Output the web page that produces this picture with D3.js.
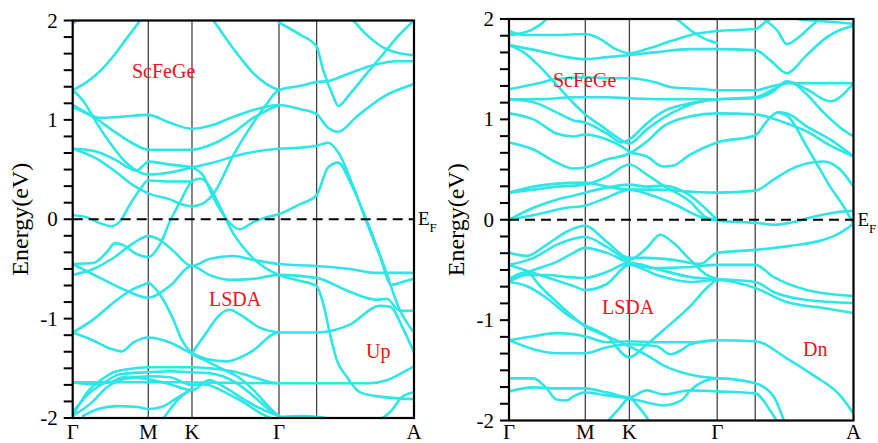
<!DOCTYPE html>
<html>
<head>
<meta charset="utf-8">
<script src="https://cdn.jsdelivr.net/npm/d3@7/dist/d3.min.js"></script>
<style>
  html, body { margin: 0; padding: 0; background: #fff; }
  svg { display: block; }
</style>
</head>
<body>
<svg id="chart" width="878" height="443"></svg>
<script>
// High-symmetry points along the k-path (path length normalised to 1)
const kTicks = [0, 0.2215, 0.3495, 0.6044, 0.7147, 1.0];
const kLabels = ["Γ", "M", "K", "Γ", "", "A"];
const energyTicks = [-2, -1, 0, 1, 2];
const energyRange = [-2, 2];

// Spin-up bands: each band is a list of [k, E (eV)]
const upBands = [
  [[0,1.97],[0.012,2.0],[0.02,2.04]],
  [[0,1.30],[0.041,1.38],[0.08,1.49],[0.119,1.64],[0.158,1.82],[0.197,2.0],[0.21,2.07]],
  [[0,1.30],[0.031,1.19],[0.07,0.97],[0.109,0.77],[0.148,0.60],[0.187,0.49],[0.221,0.45],[0.285,0.47],[0.349,0.52],[0.412,0.57],[0.49,0.65],[0.604,0.71],[0.665,0.72],[0.714,0.74],[0.748,0.77],[0.782,0.65],[0.821,0.34],[0.860,-0.02],[0.900,-0.37],[0.934,-0.66],[0.968,-0.63],[1.0,-0.60]],
  [[0,1.15],[0.041,1.07],[0.08,1.02],[0.139,1.03],[0.221,1.05],[0.285,0.97],[0.349,0.91],[0.412,0.95],[0.47,1.03],[0.529,1.10],[0.604,1.15],[0.665,1.11],[0.714,1.06],[0.748,0.92],[0.778,0.88],[0.831,1.03],[0.909,1.23],[1.0,1.36]],
  [[0,1.13],[0.06,1.03],[0.119,0.89],[0.178,0.76],[0.221,0.70],[0.285,0.70],[0.349,0.70],[0.412,0.76],[0.47,0.87],[0.529,1.02],[0.604,1.15]],
  [[0,0.71],[0.041,0.70],[0.08,0.67],[0.129,0.59],[0.168,0.51],[0.187,0.49],[0.207,0.54],[0.221,0.58],[0.285,0.55],[0.349,0.52],[0.382,0.44],[0.412,0.22],[0.451,0.0],[0.49,-0.10],[0.529,-0.03],[0.568,0.02],[0.604,0.05],[0.665,0.15],[0.714,0.24],[0.748,0.52],[0.778,0.57],[0.812,0.38],[0.860,0.0],[0.909,-0.44],[0.958,-0.91],[1.0,-1.14]],
  [[0,0.71],[0.070,0.61],[0.129,0.47],[0.178,0.34],[0.221,0.26],[0.285,0.20],[0.319,0.15],[0.349,0.13],[0.382,0.16],[0.417,0.28],[0.47,0.64],[0.529,0.97],[0.568,1.16],[0.604,1.30],[0.665,1.34],[0.714,1.38],[0.748,1.39],[0.812,1.47],[0.88,1.55],[0.948,1.59],[1.0,1.59]],
  [[0.40,2.05],[0.412,2.0],[0.451,1.81],[0.49,1.63],[0.529,1.47],[0.568,1.36],[0.604,1.30]],
  [[0.604,1.98],[0.665,1.86],[0.714,1.74],[0.734,1.50],[0.763,1.24],[0.778,1.14],[0.812,1.26],[0.86,1.46],[0.909,1.66],[0.958,1.86],[1.0,2.0]],
  [[0.80,2.05],[0.821,2.0],[0.86,1.86],[0.909,1.73],[0.958,1.67],[1.0,1.65]],
  [[0,0.04],[0.041,0.02],[0.08,-0.04],[0.114,-0.07],[0.139,-0.02],[0.168,0.15],[0.197,0.30],[0.221,0.39],[0.285,0.38],[0.349,0.38]],
  [[0,-0.45],[0.060,-0.44],[0.100,-0.33],[0.124,-0.24],[0.148,-0.26],[0.187,-0.35],[0.221,-0.38],[0.256,-0.25],[0.285,-0.02],[0.314,0.17],[0.349,0.38],[0.373,0.41],[0.397,0.35],[0.431,0.13],[0.47,-0.14],[0.509,-0.32],[0.548,-0.45],[0.604,-0.56],[0.665,-0.62],[0.714,-0.67],[0.734,-0.85],[0.753,-1.14],[0.773,-1.41],[0.802,-1.58],[0.841,-1.74],[0.89,-1.78],[1.0,-1.81]],
  [[0,-0.56],[0.060,-0.50],[0.119,-0.39],[0.178,-0.24],[0.221,-0.17],[0.256,-0.21],[0.295,-0.32],[0.349,-0.47],[0.40,-0.40],[0.47,-0.37],[0.529,-0.41],[0.604,-0.45],[0.714,-0.47],[0.812,-0.50],[0.89,-0.54],[1.0,-0.54]],
  [[0,-0.45],[0.08,-0.59],[0.158,-0.72],[0.221,-0.79],[0.285,-0.67],[0.349,-0.47],[0.40,-0.56],[0.46,-0.61],[0.529,-0.60],[0.604,-0.56],[0.714,-0.59],[0.812,-0.73],[0.89,-0.81],[0.92,-0.80],[0.958,-0.92],[1.0,-0.92]],
  [[0,-1.14],[0.06,-1.01],[0.119,-0.84],[0.178,-0.70],[0.207,-0.66],[0.221,-0.64],[0.24,-0.69],[0.295,-1.01],[0.319,-1.21],[0.349,-1.35]],
  [[0,-1.14],[0.06,-1.22],[0.109,-1.30],[0.143,-1.33],[0.178,-1.24],[0.221,-1.19],[0.285,-1.24],[0.349,-1.35],[0.397,-1.41],[0.451,-1.43],[0.52,-1.34],[0.604,-1.14],[0.714,-1.14],[0.812,-1.06],[0.90,-0.87],[0.93,-0.88],[0.968,-1.10],[1.0,-1.34]],
  [[0.349,-1.35],[0.392,-1.14],[0.431,-0.96],[0.46,-0.91],[0.49,-0.96],[0.548,-1.09],[0.604,-1.14]],
  [[0,-1.64],[0.3,-1.64],[0.6,-1.65],[0.87,-1.65],[0.92,-1.62],[0.968,-1.54],[1.0,-1.48]],
  [[0,-1.98],[0.041,-1.75],[0.09,-1.60],[0.12,-1.54],[0.16,-1.51],[0.222,-1.49],[0.285,-1.49],[0.349,-1.49],[0.40,-1.50],[0.48,-1.54],[0.54,-1.60],[0.58,-1.64],[0.605,-1.65]],
  [[0,-1.94],[0.049,-1.75],[0.09,-1.65],[0.138,-1.56],[0.222,-1.54],[0.285,-1.53],[0.349,-1.54],[0.40,-1.55],[0.44,-1.58],[0.48,-1.65],[0.53,-1.78],[0.57,-1.90],[0.605,-1.98]],
  [[0,-1.98],[0.057,-1.84],[0.10,-1.69],[0.148,-1.61],[0.222,-1.58],[0.285,-1.59],[0.349,-1.67],[0.373,-1.66],[0.40,-1.67],[0.445,-1.74],[0.50,-1.84],[0.55,-1.95],[0.58,-2.0]],
  [[0,-1.64],[0.057,-1.66],[0.11,-1.64],[0.148,-1.59],[0.222,-1.61],[0.285,-1.66],[0.349,-1.72],[0.40,-1.62],[0.45,-1.70],[0.50,-1.81],[0.56,-1.92],[0.605,-1.98]],
  [[0.03,-1.98],[0.075,-1.91],[0.13,-1.88],[0.19,-1.89],[0.222,-1.91],[0.26,-1.89],[0.30,-1.81],[0.349,-1.71]],
  [[0.263,-2.02],[0.31,-1.81],[0.349,-1.71]],
  [[0.349,-1.36],[0.40,-1.44],[0.44,-1.51],[0.49,-1.60],[0.53,-1.72],[0.57,-1.87],[0.6,-1.97],[0.62,-2.02]],
  [[0.605,-1.99],[0.675,-1.98],[0.72,-1.99],[0.773,-2.02]],
  [[0.90,-2.02],[0.93,-1.94],[0.968,-1.78],[1.0,-1.74]]
];

// Spin-down bands
const dnBands = [
  [[0,1.84],[0.04,1.86],[0.07,1.90],[0.10,1.97],[0.115,2.03]],
  [[0,1.88],[0.046,1.84],[0.134,1.84],[0.221,1.85],[0.26,1.81],[0.31,1.70],[0.349,1.66],[0.40,1.70],[0.47,1.78],[0.54,1.85],[0.604,1.88],[0.715,1.90],[0.748,1.98],[0.77,2.03]],
  [[0,1.74],[0.046,1.66],[0.085,1.54],[0.134,1.36],[0.182,1.18],[0.221,1.05],[0.27,0.93],[0.31,0.83],[0.349,0.76],[0.40,0.90],[0.45,1.02],[0.50,1.11],[0.55,1.17],[0.604,1.20],[0.715,1.22],[0.768,1.30],[0.816,1.37],[0.864,1.25],[0.913,1.07],[0.961,0.92],[1.0,0.83]],
  [[0,1.74],[0.09,1.68],[0.167,1.62],[0.22,1.60],[0.284,1.62],[0.349,1.64],[0.429,1.67],[0.526,1.70],[0.604,1.70],[0.715,1.69],[0.758,1.59],[0.806,1.46],[0.864,1.64],[0.923,1.82],[0.961,1.89],[1.0,1.93]],
  [[0.72,2.05],[0.748,1.98],[0.78,1.88],[0.806,1.75],[0.845,1.83],[0.884,1.95],[0.913,2.02]],
  [[0.80,2.02],[0.864,1.99],[0.942,1.97],[1.0,1.95]],
  [[0.47,2.03],[0.49,1.99],[0.53,1.88],[0.57,1.80],[0.604,1.76]],
  [[0,1.30],[0.085,1.36],[0.134,1.40],[0.221,1.42],[0.30,1.41],[0.349,1.41],[0.424,1.37],[0.472,1.32],[0.569,1.30],[0.605,1.29],[0.716,1.29],[0.763,1.33],[0.811,1.36],[1.0,1.36]],
  [[0,1.20],[0.09,1.20],[0.187,1.22],[0.22,1.22],[0.284,1.22],[0.349,1.21],[0.45,1.20],[0.526,1.20],[0.604,1.20],[0.715,1.21],[0.768,1.28],[0.806,1.38],[0.864,1.30],[0.932,1.18],[1.0,1.36]],
  [[0,1.20],[0.071,1.17],[0.138,1.07],[0.187,0.99],[0.22,0.97],[0.284,0.86],[0.327,0.77],[0.349,0.80],[0.40,0.96],[0.448,1.08],[0.526,1.16],[0.604,1.20]],
  [[0,1.06],[0.071,1.00],[0.138,0.86],[0.187,0.83],[0.22,0.85],[0.284,0.80],[0.327,0.73],[0.349,0.68],[0.40,0.63],[0.448,0.53],[0.477,0.54],[0.526,0.65],[0.604,0.77],[0.715,0.84],[0.748,0.98],[0.78,1.07],[0.806,1.06],[0.864,0.93],[0.932,0.80],[1.0,0.63]],
  [[0,0.77],[0.071,0.70],[0.138,0.57],[0.187,0.51],[0.22,0.52],[0.284,0.60],[0.349,0.66],[0.40,0.78],[0.448,0.93],[0.526,1.03],[0.604,1.06],[0.715,1.05],[0.806,0.96],[0.864,0.88],[0.932,0.74],[1.0,0.63]],
  [[0,0.27],[0.071,0.33],[0.138,0.36],[0.22,0.37],[0.284,0.33],[0.349,0.30],[0.429,0.30],[0.526,0.28],[0.604,0.27],[0.715,0.29],[0.768,0.40],[0.816,0.50],[0.864,0.56],[0.913,0.58],[0.961,0.50],[1.0,0.33]],
  [[0,0.27],[0.071,0.30],[0.138,0.33],[0.22,0.35],[0.284,0.43],[0.349,0.55],[0.40,0.45],[0.448,0.34],[0.526,0.18],[0.574,0.02],[0.604,0.0]],
  [[0,0.0],[0.071,0.12],[0.138,0.20],[0.187,0.24],[0.22,0.27],[0.284,0.32],[0.349,0.35],[0.40,0.33],[0.448,0.34],[0.526,0.24],[0.574,0.10],[0.604,0.0]],
  [[0,0.0],[0.09,0.06],[0.167,0.12],[0.22,0.14],[0.284,0.22],[0.349,0.30],[0.40,0.26],[0.477,0.16],[0.555,0.03],[0.604,-0.01],[0.715,-0.03],[0.768,-0.05],[0.816,-0.03],[0.884,0.03],[0.961,0.08],[1.0,0.09]],
  [[0.78,1.07],[0.81,1.03],[0.864,0.73],[0.90,0.52],[0.932,0.33],[0.97,0.14],[1.0,-0.04]],
  [[0,-0.33],[0.051,-0.36],[0.109,-0.25],[0.167,-0.12],[0.22,-0.06],[0.284,-0.22],[0.349,-0.38],[0.40,-0.38],[0.477,-0.40],[0.555,-0.44],[0.604,-0.33],[0.715,-0.30],[0.816,-0.26],[0.913,-0.20],[0.961,-0.13],[1.0,-0.04]],
  [[0,-0.45],[0.071,-0.38],[0.138,-0.25],[0.187,-0.19],[0.22,-0.17],[0.284,-0.27],[0.349,-0.40],[0.40,-0.28],[0.439,-0.15],[0.477,-0.23],[0.526,-0.40],[0.574,-0.55],[0.604,-0.59]],
  [[0,-0.59],[0.071,-0.50],[0.138,-0.42],[0.187,-0.33],[0.22,-0.28],[0.284,-0.33],[0.349,-0.43],[0.429,-0.48],[0.526,-0.47],[0.604,-0.45],[0.715,-0.45],[0.768,-0.57],[0.864,-0.70],[0.932,-0.74],[1.0,-0.76]],
  [[0,-0.62],[0.051,-0.55],[0.109,-0.55],[0.167,-0.57],[0.22,-0.58],[0.284,-0.52],[0.349,-0.43],[0.429,-0.49],[0.526,-0.57],[0.604,-0.59],[0.715,-0.62],[0.768,-0.72],[0.864,-0.80],[1.0,-0.83]],
  [[0,-0.45],[0.09,-0.55],[0.187,-0.66],[0.22,-0.70],[0.284,-0.64],[0.349,-0.45],[0.429,-0.55],[0.526,-0.62],[0.604,-0.60],[0.715,-0.68],[0.806,-0.82],[0.913,-0.88],[1.0,-0.93]],
  [[0,-0.59],[0.051,-0.52],[0.09,-0.66],[0.138,-0.82],[0.187,-0.97],[0.22,-1.06],[0.284,-1.16],[0.349,-1.26],[0.40,-1.35],[0.448,-1.45],[0.50,-1.52],[0.55,-1.56],[0.604,-1.58]],
  [[0,-0.62],[0.051,-0.66],[0.109,-0.78],[0.167,-0.94],[0.22,-1.05],[0.284,-1.16],[0.349,-1.37],[0.40,-1.24],[0.448,-1.10],[0.526,-0.86],[0.574,-0.68],[0.604,-0.59]],
  [[0,-1.20],[0.071,-1.16],[0.138,-1.13],[0.22,-1.16],[0.284,-1.22],[0.349,-1.21],[0.429,-1.22],[0.526,-1.22],[0.604,-1.20],[0.715,-1.21],[0.806,-1.38],[0.884,-1.55],[0.961,-1.75],[1.0,-1.93]],
  [[0,-1.20],[0.071,-1.29],[0.138,-1.33],[0.22,-1.33],[0.284,-1.27],[0.349,-1.24],[0.429,-1.26],[0.468,-1.34],[0.50,-1.30],[0.526,-1.24],[0.604,-1.20]],
  [[0,-1.58],[0.071,-1.58],[0.109,-1.68],[0.138,-1.79],[0.167,-1.80],[0.187,-1.76],[0.22,-1.72],[0.284,-1.75],[0.349,-1.78],[0.40,-1.82],[0.448,-1.85],[0.50,-1.80],[0.526,-1.70],[0.604,-1.58],[0.715,-1.63],[0.768,-1.76],[0.80,-2.02]],
  [[0,-1.71],[0.071,-1.67],[0.138,-1.68],[0.22,-1.68],[0.284,-1.72],[0.349,-1.77],[0.40,-1.70],[0.448,-1.74],[0.526,-1.70],[0.604,-1.71],[0.715,-1.73],[0.758,-1.90],[0.78,-2.02]],
  [[0.284,-2.02],[0.32,-1.88],[0.349,-1.78],[0.38,-1.88],[0.41,-2.02]]
];

const panels = [
  { bands: upBands, tag: "Up", left: 72.7, right: 414, top: 20.5, bottom: 418, tagPos: [366, 358], namePos: [132, 78], methodPos: [209, 306], titleX: 20 },
  { bands: dnBands, tag: "Dn", left: 509, right: 853.5, top: 19, bottom: 420.5, tagPos: [803, 356], namePos: [553, 87], methodPos: [602, 314], titleX: 456 }
];

const svg = d3.select("#chart");
const serif = '"Liberation Serif", "Times New Roman", serif';

panels.forEach((p, i) => {
  const x = d3.scaleLinear().domain([0, 1]).range([p.left, p.right]);
  const y = d3.scaleLinear().domain(energyRange).range([p.bottom, p.top]);
  const g = svg.append("g");

  const clipId = "clip" + i;
  svg.append("defs").append("clipPath").attr("id", clipId)
    .append("rect").attr("x", p.left).attr("y", p.top)
    .attr("width", p.right - p.left).attr("height", p.bottom - p.top);

  // high-symmetry separators
  g.selectAll("line.sym").data(kTicks.slice(1, -1)).join("line")
    .attr("x1", d => x(d)).attr("x2", d => x(d))
    .attr("y1", p.top).attr("y2", p.bottom)
    .attr("stroke", "#444").attr("stroke-width", 1.3);

  // bands
  const line = d3.line().x(d => x(d[0])).y(d => y(d[1])).curve(d3.curveMonotoneX);
  g.append("g").attr("clip-path", `url(#${clipId})`)
    .selectAll("path").data(p.bands).join("path")
    .attr("d", line)
    .attr("fill", "none").attr("stroke", "#2ee6e6")
    .attr("stroke-width", 2.6).attr("stroke-linejoin", "round").attr("stroke-linecap", "round");

  // Fermi level
  g.append("line")
    .attr("x1", p.left).attr("x2", p.right)
    .attr("y1", y(0)).attr("y2", y(0))
    .attr("stroke", "#000").attr("stroke-width", 2.2)
    .attr("stroke-dasharray", "10,6");

  // frame
  g.append("rect").attr("x", p.left).attr("y", p.top)
    .attr("width", p.right - p.left).attr("height", p.bottom - p.top)
    .attr("fill", "none").attr("stroke", "#000").attr("stroke-width", 2.2);

  // energy axis with minor ticks every 1/6 eV
  const minor = d3.range(-12, 13).map(v => v / 6);
  g.selectAll("line.tick").data(minor).join("line")
    .attr("x1", p.left - 9).attr("x2", p.left)
    .attr("y1", d => y(d)).attr("y2", d => y(d))
    .attr("stroke", "#000").attr("stroke-width", 2);
  g.selectAll("text.ylab").data(energyTicks).join("text")
    .attr("x", p.left - 15).attr("y", d => y(d) + 7)
    .attr("text-anchor", "end").attr("font-size", 21)
    .style("font-family", serif)
    .text(d => d < 0 ? "-" + Math.abs(d) : String(d));

  // k-path labels
  g.selectAll("text.klab").data(kTicks.map((k, j) => [k, kLabels[j]]).filter(d => d[1])).join("text")
    .attr("x", d => x(d[0])).attr("y", 439)
    .attr("text-anchor", "middle").attr("font-size", 21)
    .style("font-family", serif)
    .text(d => d[1]);

  // axis title
  g.append("text")
    .attr("transform", `translate(${p.titleX + 8},${y(0)}) rotate(-90)`)
    .attr("text-anchor", "middle").attr("font-size", 24)
    .style("font-family", serif)
    .text("Energy(eV)");

  // Fermi label
  const ef = g.append("text").attr("x", p.right + 4).attr("y", y(0) + 6)
    .attr("font-size", 19).style("font-family", serif);
  ef.append("tspan").text("E");
  ef.append("tspan").attr("font-size", 13).attr("dy", 7).text("F");

  // annotations
  const red = "#e8141c";
  [["ScFeGe", p.namePos], ["LSDA", p.methodPos], [p.tag, p.tagPos]].forEach(([t, pos]) => {
    g.append("text").attr("x", pos[0]).attr("y", pos[1])
      .attr("font-size", 20).attr("fill", red)
      .style("font-family", serif)
      .text(t);
  });
});
</script>
</body>
</html>
